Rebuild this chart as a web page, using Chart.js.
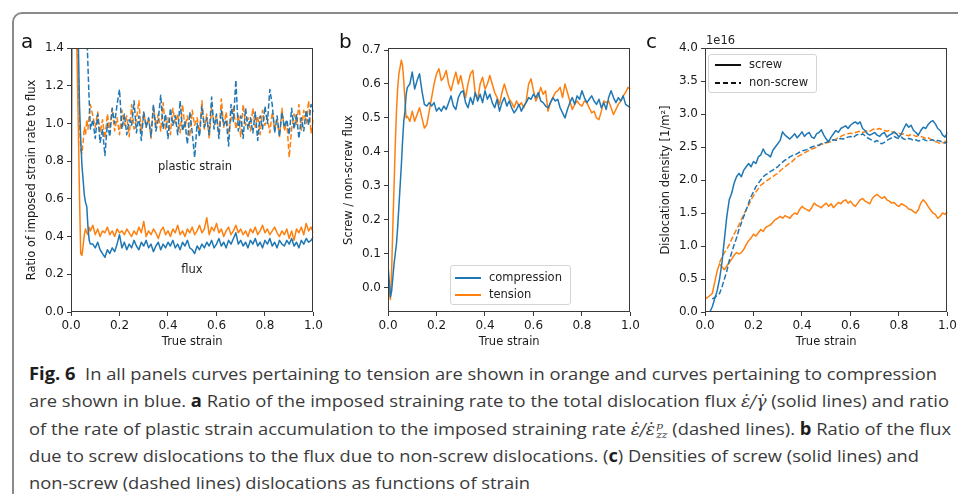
<!DOCTYPE html>
<html lang="en">
<head>
  <meta charset="UTF-8" />
  <title>Fig. 6 - flux ratios and dislocation densities</title>
  <script src="https://cdn.jsdelivr.net/npm/chart.js"></script>
  <style>
    body { margin: 0; width: 958px; height: 494px; overflow: hidden; background: #fff; position: relative; }
    #frame { position: absolute; left: 12px; top: 12px; width: 1000px; height: 600px; border: 2px solid #8a8a8a; border-radius: 10px; }
    canvas { position: absolute; top: 30px; }
    .txt { position: absolute; font-family: "DejaVu Sans"; font-size: 11.5px; color: #222; line-height: 1; white-space: nowrap; }
    .letter { position: absolute; font-family: "DejaVu Sans"; font-size: 20px; color: #111; line-height: 1; top: 31px; }
    .legend { position: absolute; box-sizing: border-box; border: 1px solid #d4d4d4; border-radius: 3px; background: rgba(255,255,255,0.8); }
    .legend .sample { position: absolute; height: 1.6px; }
    .legend .lab { position: absolute; font-family: "DejaVu Sans"; font-size: 11.5px; color: #222; line-height: 1; transform: translateY(-50%); }
    .cap { position: absolute; left: 29px; font-family: "Open Sans"; font-size: 17px; line-height: 17px; color: #3a3a3a; white-space: nowrap; transform-origin: 0 0; }
    .cap b { color: #1e1e1e; }
    .m { font-family: "DejaVu Serif"; font-style: italic; font-size: 16px; }
    .ss { display: inline-block; vertical-align: middle; font-family: "DejaVu Serif"; font-style: italic; font-size: 10px; line-height: 9px; text-align: left; margin-left: 1px; }
  </style>
</head>
<body>
  <div id="frame"></div>

  <canvas id="panelA" width="305" height="323" style="left:21px"></canvas>
  <canvas id="panelB" width="305" height="323" style="left:338px"></canvas>
  <canvas id="panelC" width="305" height="323" style="left:655px"></canvas>

  <div class="letter" style="left:21px">a</div>
  <div class="letter" style="left:339px">b</div>
  <div class="letter" style="left:646px">c</div>

  <div class="txt" style="left:195px; top:167px; transform:translate(-50%,-50%)">plastic strain</div>
  <div class="txt" style="left:192px; top:270px; transform:translate(-50%,-50%)">flux</div>
  <div class="txt" style="left:706px; top:41px; transform:translateY(-50%)">1e16</div>

  <div class="legend" style="left:450px; top:265px; width:121px; height:40px">
    <div class="sample" style="left:4px; width:26px; top:11px; background:#1f77b4"></div>
    <div class="lab" style="left:38px; top:12px">compression</div>
    <div class="sample" style="left:4px; width:26px; top:28px; background:#ff7f0e"></div>
    <div class="lab" style="left:38px; top:29px">tension</div>
  </div>

  <div class="legend" style="left:708px; top:54px; width:109px; height:39px">
    <div class="sample" style="left:6px; width:26px; top:9px; background:#111"></div>
    <div class="lab" style="left:40px; top:10px">screw</div>
    <div class="sample" style="left:6px; width:26px; top:27px; background:repeating-linear-gradient(90deg,#111 0 5.5px,transparent 5.5px 8px)"></div>
    <div class="lab" style="left:40px; top:28px">non-screw</div>
  </div>

  <div class="cap" data-w="908" style="top:365px"><b>Fig. 6</b>&nbsp; In all panels curves pertaining to tension are shown in orange and curves pertaining to compression</div>
  <div class="cap" data-w="920" style="top:392px">are shown in blue. <b>a</b> Ratio of the imposed straining rate to the total dislocation flux <span class="m">ε̇/γ̇</span> (solid lines) and ratio</div>
  <div class="cap" data-w="922" style="top:419.5px">of the rate of plastic strain accumulation to the imposed straining rate <span class="m">ε̇/ε̇</span><span class="ss">p<br>zz</span> (dashed lines). <b>b</b> Ratio of the flux</div>
  <div class="cap" data-w="890" style="top:447px">due to screw dislocations to the flux due to non-screw dislocations. (<b>c</b>) Densities of screw (solid lines) and</div>
  <div class="cap" style="top:474px">non-screw (dashed lines) dislocations as functions of strain</div>

  <script>
    // shared strain grid for panels a and b (finer at the start)
    const strainFine = [
      0, 0.005, 0.01, 0.015, 0.02, 0.025, 0.03, 0.035, 0.04, 0.045, 0.05, 0.055, 0.06, 0.065, 0.07, 0.075, 0.08,
      0.09, 0.10, 0.11, 0.12, 0.13, 0.14, 0.15, 0.16, 0.17, 0.18,
      0.19, 0.20, 0.21, 0.22, 0.23, 0.24, 0.25, 0.26, 0.27, 0.28,
      0.29, 0.30, 0.31, 0.32, 0.33, 0.34, 0.35, 0.36, 0.37, 0.38,
      0.39, 0.40, 0.41, 0.42, 0.43, 0.44, 0.45, 0.46, 0.47, 0.48,
      0.49, 0.50, 0.51, 0.52, 0.53, 0.54, 0.55, 0.56, 0.57, 0.58,
      0.59, 0.60, 0.61, 0.62, 0.63, 0.64, 0.65, 0.66, 0.67, 0.68,
      0.69, 0.70, 0.71, 0.72, 0.73, 0.74, 0.75, 0.76, 0.77, 0.78,
      0.79, 0.80, 0.81, 0.82, 0.83, 0.84, 0.85, 0.86, 0.87, 0.88,
      0.89, 0.90, 0.91, 0.92, 0.93, 0.94, 0.95, 0.96, 0.97, 0.98,
      0.99, 1.00
    ];

    // panel a: strain rate / flux (solid), plastic strain ratio (dashed)
    const fluxTension = [
      0.0, 2.5, 2.2, 1.9, 1.6, 1.35, 1.0, 0.62, 0.31, 0.30, 0.35, 0.41, 0.44, 0.42, 0.41, 0.45, 0.43,
      0.46, 0.41, 0.44, 0.40, 0.43, 0.42, 0.45, 0.41, 0.43, 0.40,
      0.44, 0.42, 0.43, 0.41, 0.44, 0.42, 0.40, 0.43, 0.41, 0.45,
      0.42, 0.48, 0.40, 0.43, 0.41, 0.44, 0.42, 0.39, 0.43, 0.45,
      0.41, 0.43, 0.40, 0.44, 0.42, 0.46, 0.41, 0.43, 0.40, 0.44,
      0.42, 0.45, 0.41, 0.43, 0.46, 0.42, 0.44, 0.50, 0.41, 0.45,
      0.43, 0.47, 0.42, 0.44, 0.40, 0.43, 0.45, 0.41, 0.43, 0.46,
      0.42, 0.44, 0.41, 0.43, 0.40, 0.44, 0.42, 0.45, 0.41, 0.43,
      0.46, 0.42, 0.44, 0.41, 0.43, 0.45, 0.42, 0.40, 0.43, 0.41,
      0.44, 0.39, 0.43, 0.38, 0.44, 0.42, 0.45, 0.41, 0.47, 0.43,
      0.45, 0.42
    ];
    const fluxCompression = [
      0.0, 2.5, 2.5, 2.5, 2.2, 1.8, 1.45, 1.1, 0.92, 0.78, 0.70, 0.62, 0.58, 0.56, 0.45, 0.38, 0.36,
      0.36, 0.34, 0.37, 0.33, 0.31, 0.29, 0.33, 0.31, 0.34, 0.32,
      0.36, 0.41, 0.34, 0.37, 0.33, 0.36, 0.34, 0.38, 0.35, 0.33,
      0.37, 0.35, 0.38, 0.34, 0.36, 0.32, 0.35, 0.37, 0.33, 0.36,
      0.34, 0.37, 0.35, 0.38, 0.34, 0.36, 0.33, 0.37, 0.35, 0.38,
      0.34, 0.33, 0.31, 0.35, 0.33, 0.36, 0.34, 0.37, 0.35, 0.38,
      0.34, 0.36, 0.39, 0.35, 0.37, 0.34, 0.38, 0.36, 0.39, 0.42,
      0.36, 0.38, 0.35, 0.37, 0.34, 0.38, 0.36, 0.39, 0.35, 0.37,
      0.34, 0.38, 0.36, 0.39, 0.35, 0.37, 0.34, 0.38, 0.36, 0.35,
      0.38, 0.36, 0.39, 0.35, 0.37, 0.34, 0.38, 0.36, 0.39, 0.37,
      0.38, 0.40
    ];
    const plasticTension = [
      null, 2.5, 2.3, 2.0, 1.75, 1.5, 1.25, 1.0, 0.86, 0.84, 0.90, 0.98, 0.94, 1.02, 0.97, 1.05, 1.10,
      1.04, 0.98, 1.06, 0.95, 1.02, 0.92, 1.05, 0.97, 1.08, 0.96,
      1.03, 0.94, 1.07, 0.99, 1.04, 0.93, 1.10, 0.97, 1.02, 1.12,
      0.95, 1.06, 0.98, 1.03, 0.92, 1.09, 0.99, 1.05, 0.96, 1.11,
      0.97, 1.03, 0.94, 1.08, 1.00, 1.05, 0.95, 1.10, 0.98, 1.04,
      0.93, 1.07, 0.99, 1.03, 0.95, 1.12, 0.97, 1.05, 0.92, 1.08,
      1.00, 1.04, 0.94, 1.13, 0.98, 1.06, 0.95, 1.02, 1.09, 0.97,
      1.05, 0.93, 1.10, 0.99, 1.03, 0.96, 1.08, 0.98, 1.04, 0.94,
      1.07, 0.99, 1.03, 0.95, 1.06, 0.97, 1.02, 0.93, 1.08, 0.96,
      1.01, 0.82, 0.97, 1.05, 0.99, 1.10, 0.96, 1.07, 1.00, 1.12,
      0.95, 1.02
    ];
    const plasticCompression = [
      null, null, null, null, null, null, null, null, null, null, null, null, null, 1.5, 1.3, 1.12, 0.97,
      1.02, 0.92, 1.05, 0.90, 0.97, 0.83, 1.00, 0.93, 1.08, 1.00,
      1.10, 1.18, 0.97, 1.05, 0.94, 1.02, 0.99, 1.12, 0.95, 1.04,
      0.91, 1.06, 0.98, 1.03, 0.93, 1.10, 0.96, 1.02, 1.15, 0.97,
      1.05, 0.92, 1.08, 0.99, 1.04, 0.94, 1.12, 0.96, 1.01, 0.89,
      1.06, 0.95, 0.82, 1.00, 0.93, 1.09, 0.98, 1.03, 0.94, 1.14,
      0.97, 1.05, 0.92, 1.07, 0.99, 1.02, 0.88, 1.10, 1.01, 1.23,
      0.96, 1.04, 0.92, 1.08, 0.97, 1.03, 0.95, 1.06, 0.91, 1.04,
      0.97, 1.09, 1.00, 1.18, 1.10, 0.95, 1.04, 0.93, 1.06, 0.98,
      1.02, 0.94, 1.08, 0.97, 1.05, 0.92, 1.03, 0.96, 1.07, 0.99,
      1.10, 1.06
    ];

    // panel b: screw / non-screw flux
    const ratioCompression = [
      0.067, 0.02, -0.027, -0.01, 0.03, 0.07, 0.10, 0.13, 0.18, 0.24, 0.30, 0.36, 0.43, 0.49, 0.52, 0.57, 0.59,
      0.60, 0.635, 0.585, 0.61, 0.63, 0.58, 0.54, 0.535, 0.545, 0.535,
      0.545, 0.52, 0.53, 0.52, 0.535, 0.525, 0.545, 0.565, 0.535, 0.525,
      0.56, 0.575, 0.58, 0.545, 0.53, 0.56, 0.54, 0.575, 0.55, 0.57,
      0.545, 0.58, 0.555, 0.57, 0.545, 0.53, 0.555, 0.52, 0.545, 0.56,
      0.535, 0.55, 0.53, 0.515, 0.525, 0.54, 0.52, 0.535, 0.545, 0.56,
      0.555, 0.57, 0.56, 0.575, 0.55, 0.545, 0.535, 0.53, 0.545, 0.56,
      0.55, 0.555, 0.53, 0.515, 0.50, 0.525, 0.545, 0.56, 0.54, 0.565,
      0.555, 0.58, 0.56, 0.545, 0.555, 0.565, 0.55, 0.54, 0.555, 0.53,
      0.545, 0.525, 0.56, 0.58, 0.56, 0.545, 0.56, 0.55, 0.565, 0.54,
      0.535, 0.53
    ];
    const ratioTension = [
      0.02, -0.01, -0.035, 0.05, 0.18, 0.30, 0.42, 0.52, 0.59, 0.63, 0.65, 0.67, 0.655, 0.61, 0.55, 0.50, 0.505,
      0.49, 0.52, 0.49, 0.51, 0.53, 0.50, 0.47, 0.48, 0.52, 0.56,
      0.60, 0.63, 0.645, 0.61, 0.62, 0.64, 0.60, 0.58, 0.61, 0.635,
      0.60, 0.625, 0.59, 0.56, 0.60, 0.63, 0.64, 0.57, 0.555, 0.60,
      0.62, 0.585, 0.60, 0.625, 0.60, 0.575, 0.56, 0.54, 0.575, 0.60,
      0.575, 0.555, 0.545, 0.53, 0.55, 0.535, 0.545, 0.53, 0.55, 0.60,
      0.615, 0.58, 0.55, 0.565, 0.59, 0.57, 0.58, 0.52, 0.545, 0.56,
      0.575, 0.58, 0.59, 0.56, 0.60, 0.575, 0.55, 0.525, 0.54, 0.55,
      0.54, 0.535, 0.55, 0.545, 0.53, 0.515, 0.52, 0.50, 0.495, 0.52,
      0.55, 0.545, 0.55, 0.53, 0.51, 0.525, 0.54, 0.55, 0.565, 0.575,
      0.59, 0.585
    ];

    // panel c: dislocation densities, in units of 1e16 1/m^2
    const strainC = [
      0.00, 0.01, 0.02, 0.03, 0.04, 0.05, 0.06, 0.07, 0.08, 0.09,
      0.10, 0.11, 0.12, 0.13, 0.14, 0.15, 0.16, 0.17, 0.18, 0.19,
      0.20, 0.21, 0.22, 0.23, 0.24, 0.25, 0.26, 0.27, 0.28, 0.29,
      0.30, 0.31, 0.32, 0.33, 0.34, 0.35, 0.36, 0.37, 0.38, 0.39,
      0.40, 0.41, 0.42, 0.43, 0.44, 0.45, 0.46, 0.47, 0.48, 0.49,
      0.50, 0.51, 0.52, 0.53, 0.54, 0.55, 0.56, 0.57, 0.58, 0.59,
      0.60, 0.61, 0.62, 0.63, 0.64, 0.65, 0.66, 0.67, 0.68, 0.69,
      0.70, 0.71, 0.72, 0.73, 0.74, 0.75, 0.76, 0.77, 0.78, 0.79,
      0.80, 0.81, 0.82, 0.83, 0.84, 0.85, 0.86, 0.87, 0.88, 0.89,
      0.90, 0.91, 0.92, 0.93, 0.94, 0.95, 0.96, 0.97, 0.98, 0.99,
      1.00
    ];
    const screwCompression = [
      null, null, 0.0, 0.08, 0.2, 0.32, 0.5, 0.75, 1.1, 1.45,
      1.7, 1.8, 1.95, 2.05, 2.1, 2.05, 2.15, 2.2, 2.25, 2.2,
      2.28, 2.25, 2.35, 2.38, 2.47, 2.4, 2.38, 2.35, 2.45, 2.5,
      2.55, 2.6, 2.73, 2.68, 2.65, 2.62, 2.66, 2.7, 2.64, 2.68,
      2.73, 2.66, 2.7, 2.72, 2.65, 2.63, 2.7, 2.72, 2.76, 2.68,
      2.62, 2.58, 2.65, 2.7, 2.75, 2.72, 2.78, 2.8, 2.82, 2.78,
      2.83, 2.86, 2.88, 2.85, 2.88, 2.78, 2.75, 2.7, 2.68, 2.7,
      2.72, 2.68, 2.66, 2.7, 2.72, 2.65, 2.68, 2.7, 2.73, 2.7,
      2.65, 2.7, 2.78, 2.85, 2.8, 2.83, 2.75, 2.72, 2.68, 2.75,
      2.8, 2.78, 2.84, 2.88, 2.9, 2.85, 2.78, 2.75, 2.68, 2.65,
      2.72
    ];
    const nonScrewCompression = [
      null, null, null, 0.2, 0.22, 0.25, 0.28, 0.38, 0.5, 0.62,
      0.78, 0.9, 1.02, 1.12, 1.25, 1.35, 1.45, 1.55, 1.65, 1.75,
      1.82, 1.9, 1.95, 2.0, 2.05, 2.08, 2.1, 2.13, 2.15, 2.18,
      2.2, 2.24, 2.27, 2.3, 2.32, 2.35, 2.37, 2.38, 2.4, 2.42,
      2.44, 2.45, 2.46, 2.48, 2.5, 2.51, 2.52, 2.53, 2.55, 2.56,
      2.57, 2.59, 2.6, 2.61, 2.6, 2.62, 2.63, 2.62, 2.64, 2.65,
      2.66, 2.64, 2.67, 2.69, 2.68, 2.7, 2.67, 2.64, 2.62, 2.6,
      2.58, 2.6, 2.56, 2.55, 2.57, 2.6, 2.62, 2.64, 2.66, 2.64,
      2.63, 2.65, 2.62, 2.61, 2.63, 2.62, 2.6, 2.61, 2.59, 2.6,
      2.62, 2.6, 2.59, 2.6, 2.61, 2.58, 2.6, 2.59, 2.57, 2.56,
      2.58
    ];
    const screwTension = [
      0.2, 0.22, 0.25, 0.28, 0.45, 0.62, 0.73, 0.68, 0.64, 0.7,
      0.75, 0.8, 0.86, 0.9, 0.88, 0.9, 0.95, 1.02, 1.08, 1.12,
      1.18, 1.15, 1.2, 1.25, 1.22, 1.28, 1.3, 1.32, 1.36, 1.4,
      1.42, 1.45, 1.42, 1.46, 1.44, 1.42, 1.47, 1.5, 1.48, 1.55,
      1.6, 1.57, 1.55, 1.53, 1.58, 1.65, 1.62, 1.6, 1.58, 1.62,
      1.65, 1.6, 1.64, 1.58, 1.62, 1.66, 1.64, 1.68, 1.7, 1.65,
      1.68, 1.63, 1.6, 1.65, 1.7, 1.72, 1.68, 1.66, 1.64, 1.72,
      1.76, 1.78, 1.75, 1.72, 1.75, 1.7, 1.68, 1.65, 1.66, 1.62,
      1.6, 1.64, 1.62, 1.6, 1.56, 1.55, 1.52, 1.5, 1.55, 1.65,
      1.7, 1.66, 1.6, 1.55, 1.5, 1.48, 1.42, 1.45, 1.5, 1.48,
      1.52
    ];
    const nonScrewTension = [
      null, null, null, null, null, null, 0.75, 0.83, 0.9, 0.95,
      1.02, 1.1, 1.18, 1.25, 1.32, 1.4, 1.48, 1.55, 1.62, 1.7,
      1.76, 1.82, 1.87, 1.92, 1.95, 1.98, 2.0, 2.03, 2.05, 2.08,
      2.1, 2.14, 2.17, 2.2, 2.23, 2.26, 2.28, 2.32, 2.35, 2.37,
      2.39, 2.41, 2.43, 2.45, 2.47, 2.48, 2.5, 2.52, 2.54, 2.55,
      2.56, 2.57, 2.58, 2.6, 2.62, 2.64, 2.66, 2.68, 2.69, 2.7,
      2.71, 2.7, 2.72, 2.73, 2.74, 2.72, 2.73, 2.75, 2.74, 2.76,
      2.78, 2.77, 2.78, 2.76, 2.75, 2.74, 2.75, 2.73, 2.72, 2.7,
      2.71, 2.69, 2.7, 2.68, 2.67, 2.69, 2.68, 2.66, 2.67, 2.66,
      2.65, 2.63, 2.64, 2.62, 2.6, 2.58, 2.57, 2.55, 2.56, 2.58,
      2.6
    ];

    const xTicks = [0, 0.2, 0.4, 0.6, 0.8, 1.0];
    const yTicksA = [0, 0.2, 0.4, 0.6, 0.8, 1.0, 1.2, 1.4];
    const yTicksB = [0, 0.1, 0.2, 0.3, 0.4, 0.5, 0.6, 0.7];
    const yTicksC = [0, 0.5, 1.0, 1.5, 2.0, 2.5, 3.0, 3.5, 4.0];

    const BLUE = '#1f77b4';
    const ORANGE = '#ff7f0e';
    const AXIS = '#3a3a3a';

    Chart.defaults.font.family = 'DejaVu Sans';
    Chart.defaults.font.size = 12;
    Chart.defaults.color = '#1a1a1a';

    function points(xs, ys) {
      return xs.map((x, i) => ({ x: x, y: ys[i] }));
    }

    function series(xs, ys, color, dashed) {
      return {
        data: points(xs, ys),
        borderColor: color,
        borderWidth: 1.5,
        borderDash: dashed ? [5.5, 2.4] : [],
        pointRadius: 0,
        tension: 0,
        fill: false,
        spanGaps: false,
        borderJoinStyle: 'round',
        clip: 0
      };
    }

    // box around the plot area (matplotlib spines)
    const frame = {
      id: 'frame',
      afterDraw(chart) {
        const a = chart.chartArea;
        const ctx = chart.ctx;
        ctx.save();
        ctx.strokeStyle = AXIS;
        ctx.lineWidth = 1;
        ctx.strokeRect(Math.round(a.left) + 0.5, Math.round(a.top) + 0.5,
          Math.round(a.right - a.left) - 1, Math.round(a.bottom - a.top) - 1);
        ctx.restore();
      }
    };

    function makePanel(id, datasets, yMin, yMax, yTicks, yTitle) {
      const tickGrid = { drawOnChartArea: false, drawTicks: true, tickLength: 4, tickWidth: 1, tickColor: AXIS };
      const titleFont = { size: 11.5 };
      new Chart(document.getElementById(id), {
        type: 'line',
        data: { datasets: datasets },
        options: {
          responsive: false,
          animation: false,
          layout: { padding: { top: 18, right: 11, left: 0, bottom: 0 } },
          plugins: { legend: { display: false }, tooltip: { enabled: false } },
          scales: {
            x: {
              type: 'linear', min: 0, max: 1,
              afterBuildTicks: s => { s.ticks = xTicks.map(v => ({ value: v })); },
              afterFit: s => { s.height = 41; },
              grid: tickGrid,
              border: { display: false },
              ticks: { padding: 3, autoSkip: false, maxRotation: 0, callback: v => v.toFixed(1) },
              title: { display: true, text: 'True strain', font: titleFont, padding: { top: 4, bottom: 4 } }
            },
            y: {
              type: 'linear', min: yMin, max: yMax,
              afterBuildTicks: s => { s.ticks = yTicks.map(v => ({ value: v })); },
              afterFit: s => { s.width = 50; },
              grid: tickGrid,
              border: { display: false },
              ticks: { padding: 3, autoSkip: false, callback: v => v.toFixed(1) },
              title: { display: true, text: yTitle, font: titleFont, padding: { top: 4, bottom: 4 } }
            }
          }
        },
        plugins: [frame]
      });
    }

    makePanel('panelA', [
      series(strainFine, fluxCompression, BLUE, false),
      series(strainFine, plasticCompression, BLUE, true),
      series(strainFine, fluxTension, ORANGE, false),
      series(strainFine, plasticTension, ORANGE, true)
    ], 0, 1.4, yTicksA, 'Ratio of imposed strain rate to flux');

    makePanel('panelB', [
      series(strainFine, ratioCompression, BLUE, false),
      series(strainFine, ratioTension, ORANGE, false)
    ], -0.0716, 0.706, yTicksB, 'Screw / non-screw flux');

    makePanel('panelC', [
      series(strainC, screwCompression, BLUE, false),
      series(strainC, nonScrewCompression, BLUE, true),
      series(strainC, screwTension, ORANGE, false),
      series(strainC, nonScrewTension, ORANGE, true)
    ], 0, 4.0, yTicksC, 'Dislocation density [1/m\u00b2]');

    // stretch each caption line to the width it has in the figure;
    // the short last line just takes the mean factor of the others
    document.fonts.ready.then(() => {
      const lines = [...document.querySelectorAll('.cap')];
      const factors = [];
      lines.forEach(el => {
        if (!el.dataset.w) return;
        const f = el.dataset.w / el.getBoundingClientRect().width;
        factors.push(f);
        el.style.transform = 'scaleX(' + f + ')';
      });
      const mean = factors.reduce((s, f) => s + f, 0) / factors.length;
      lines.filter(el => !el.dataset.w).forEach(el => {
        el.style.transform = 'scaleX(' + mean + ')';
      });
    });
  </script>
</body>
</html>
